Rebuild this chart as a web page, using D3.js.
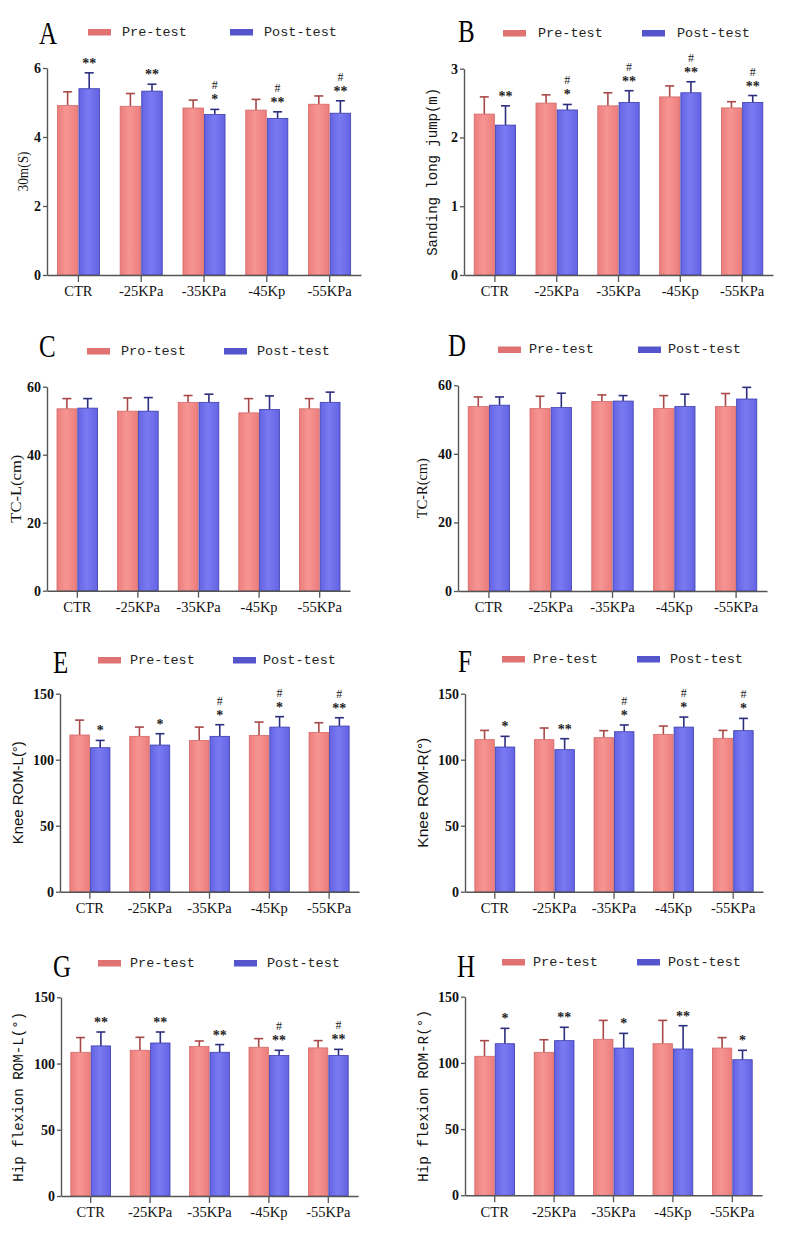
<!DOCTYPE html>
<html><head><meta charset="utf-8">
<script src="https://cdn.jsdelivr.net/npm/d3@7"></script>
<style>body{margin:0;background:#fff}svg{display:block}</style>
</head><body><svg id="c" width="810" height="1233"></svg>
<script>
// ---------- data ----------
const categories = ["CTR", "-25KPa", "-35KPa", "-45Kp", "-55KPa"];
const seriesNames = ["Pre-test", "Post-test"];
const seriesNamesC = ["Pro-test", "Post-test"];

const ticksA = [0, 2, 4, 6];
const preA = [4.91, 4.89, 4.84, 4.78, 4.95];
const preAErr = [0.40, 0.37, 0.23, 0.31, 0.24];
const postA = [5.40, 5.33, 4.65, 4.54, 4.69];
const postAErr = [0.46, 0.20, 0.15, 0.19, 0.36];
const starsA = ["**", "**", "*", "**", "**"];
const hashA = [false, false, true, true, true];

const ticksB = [0, 1, 2, 3];
const preB = [2.34, 2.50, 2.46, 2.59, 2.43];
const preBErr = [0.25, 0.12, 0.19, 0.16, 0.09];
const postB = [2.18, 2.40, 2.51, 2.65, 2.51];
const postBErr = [0.28, 0.08, 0.17, 0.16, 0.10];
const starsB = ["**", "*", "**", "**", "**"];
const hashB = [false, true, true, true, true];

const ticksC = [0, 20, 40, 60];
const preC = [53.5, 52.8, 55.4, 52.3, 53.5];
const preCErr = [3.0, 3.9, 2.0, 4.2, 3.0];
const postC = [53.7, 52.8, 55.4, 53.3, 55.4];
const postCErr = [2.8, 4.0, 2.4, 4.0, 3.0];

const ticksD = [0, 20, 40, 60];
const preD = [53.8, 53.2, 55.3, 53.2, 53.8];
const preDErr = [2.8, 3.6, 1.9, 3.8, 3.8];
const postD = [54.2, 53.5, 55.4, 53.8, 56.0];
const postDErr = [2.4, 4.2, 1.6, 3.6, 3.4];

const ticksE = [0, 50, 100, 150];
const preE = [118.7, 117.7, 114.6, 118.4, 120.7];
const preEErr = [11.3, 7.0, 10.1, 10.1, 7.3];
const postE = [109.1, 111.1, 117.7, 124.7, 125.5];
const postEErr = [5.5, 8.6, 8.8, 7.9, 6.3];
const starsE = ["*", "*", "*", "*", "**"];
const hashE = [false, false, true, true, true];

const ticksF = [0, 50, 100, 150];
const preF = [115.2, 115.2, 116.7, 119.2, 116.2];
const preFErr = [7.0, 8.8, 5.3, 6.3, 6.0];
const postF = [109.6, 107.6, 121.2, 124.7, 122.0];
const postFErr = [8.1, 8.3, 5.1, 7.6, 9.3];
const starsF = ["*", "**", "*", "*", "*"];
const hashF = [false, false, true, true, true];

const ticksG = [0, 50, 100, 150];
const preG = [108.5, 110.0, 112.8, 112.3, 111.8];
const preGErr = [11.1, 9.8, 4.2, 6.5, 5.5];
const postG = [113.3, 115.5, 108.5, 106.0, 106.0];
const postGErr = [10.5, 8.3, 5.8, 4.0, 4.7];
const starsG = ["**", "**", "**", "**", "**"];
const hashG = [false, false, false, true, true];

const ticksH = [0, 50, 100, 150];
const preH = [105.0, 108.0, 117.8, 114.5, 111.2];
const preHErr = [11.8, 9.5, 14.3, 17.6, 7.9];
const postH = [114.5, 116.8, 111.2, 110.5, 102.4];
const postHErr = [11.6, 10.1, 11.1, 17.6, 7.1];
const starsH = ["*", "**", "*", "**", "*"];
const hashH = [false, false, false, false, false];

const yLabels = {
  A: "30m(S)", B: "Sanding long jump(m)", C: "TC-L(cm)", D: "TC-R(cm)",
  E: "Knee ROM-L(°)", F: "Knee ROM-R(°)", G: "Hip flexion ROM-L(°)", H: "Hip flexion ROM-R(°)"
};

const panels = [
  {id: "A", ticks: ticksA, pre: preA, preErr: preAErr, post: postA, postErr: postAErr, stars: starsA, hash: hashA, names: seriesNames},
  {id: "B", ticks: ticksB, pre: preB, preErr: preBErr, post: postB, postErr: postBErr, stars: starsB, hash: hashB, names: seriesNames},
  {id: "C", ticks: ticksC, pre: preC, preErr: preCErr, post: postC, postErr: postCErr, stars: null, hash: null, names: seriesNamesC},
  {id: "D", ticks: ticksD, pre: preD, preErr: preDErr, post: postD, postErr: postDErr, stars: null, hash: null, names: seriesNames},
  {id: "E", ticks: ticksE, pre: preE, preErr: preEErr, post: postE, postErr: postEErr, stars: starsE, hash: hashE, names: seriesNames},
  {id: "F", ticks: ticksF, pre: preF, preErr: preFErr, post: postF, postErr: postFErr, stars: starsF, hash: hashF, names: seriesNames},
  {id: "G", ticks: ticksG, pre: preG, preErr: preGErr, post: postG, postErr: postGErr, stars: starsG, hash: hashG, names: seriesNames},
  {id: "H", ticks: ticksH, pre: preH, preErr: preHErr, post: postH, postErr: postHErr, stars: starsH, hash: hashH, names: seriesNames}
];

// ---------- layout (positions, sizes) ----------
const layout = {
  A: {x0: 47, x1: 361, yb: 275, yt: 68, lx: 39, lb: 44, ly: 32, r1: 88, t1: 122, r2: 230, t2: 264, yl: 23, ylLen: 40, ylFont: "serif"},
  B: {x0: 464, x1: 773, yb: 275, yt: 68.7, lx: 458, lb: 42, ly: 33, r1: 503, t1: 538, r2: 642, t2: 677, yl: 433, ylLen: 168, ylFont: "mono"},
  C: {x0: 47, x1: 350, yb: 590.7, yt: 386.7, lx: 39, lb: 357, ly: 351, r1: 87, t1: 121, r2: 224, t2: 257, yl: 16, ylLen: 68, ylFont: "serif"},
  D: {x0: 458, x1: 767, yb: 591, yt: 385.3, lx: 448, lb: 356, ly: 349.5, r1: 498, t1: 529, r2: 638, t2: 668, yl: 422, ylLen: 60, ylFont: "serif"},
  E: {x0: 60, x1: 359, yb: 891.7, yt: 693.7, lx: 53, lb: 673, ly: 660, r1: 98, t1: 130, r2: 233, t2: 263, yl: 18, ylLen: 103, ylFont: "sans"},
  F: {x0: 465, x1: 763, yb: 891.7, yt: 693.7, lx: 458, lb: 672, ly: 659, r1: 502, t1: 533, r2: 637, t2: 670, yl: 423, ylLen: 110, ylFont: "sans"},
  G: {x0: 61, x1: 358, yb: 1196, yt: 997.3, lx: 53, lb: 977, ly: 963, r1: 98, t1: 130, r2: 234, t2: 267, yl: 19, ylLen: 170, ylFont: "mono"},
  H: {x0: 465, x1: 762, yb: 1195.3, yt: 996.7, lx: 457, lb: 977, ly: 962, r1: 502, t1: 533, r2: 637, t2: 668, yl: 424, ylLen: 172, ylFont: "mono"}
};

const fonts = {serif: "'Liberation Serif','Times New Roman',serif", mono: "'Liberation Mono','DejaVu Sans Mono',monospace", sans: "'Liberation Sans',Arial,sans-serif"};
const colors = {
  preFill: "#f28a88", preStroke: "#d46a68", preErr: "#a84848", preLeg: "#e07272",
  postFill: "#7272ee", postStroke: "#3c3cae", postErr: "#2c2f7e", postLeg: "#5454cc",
  axis: "#555"
};

const svg = d3.select("#c");
const defs = svg.append("defs");
function grad(id, c1, c2) {
  const g = defs.append("linearGradient").attr("id", id).attr("x1", 0).attr("x2", 1).attr("y1", 0).attr("y2", 0);
  g.append("stop").attr("offset", "0%").attr("stop-color", c2);
  g.append("stop").attr("offset", "45%").attr("stop-color", c1);
  g.append("stop").attr("offset", "100%").attr("stop-color", c2);
}
grad("gPre", "#f69593", "#ec7e7c");
grad("gPost", "#7a7af2", "#6464e4");

panels.forEach(p => {
  const L = layout[p.id];
  const g = svg.append("g");
  const x = d3.scaleBand().domain(categories).range([L.x0, L.x1]).paddingInner(0.33).paddingOuter(0.165);
  const xs = d3.scaleBand().domain(["pre", "post"]).range([0, x.bandwidth()]).paddingInner(0.05);
  const y = d3.scaleLinear().domain([0, d3.max(p.ticks)]).range([L.yb, L.yt]);

  const rows = categories.map((c, i) => ({c, i, pre: p.pre[i], preErr: p.preErr[i], post: p.post[i], postErr: p.postErr[i]}));
  const series = [
    {key: "pre", fill: "url(#gPre)", stroke: colors.preStroke, err: colors.preErr},
    {key: "post", fill: "url(#gPost)", stroke: colors.postStroke, err: colors.postErr}
  ];

  series.forEach(s => {
    const eg = g.append("g");
    // error bars (upper only)
    eg.selectAll("line.v").data(rows).join("line")
      .attr("x1", d => x(d.c) + xs(s.key) + xs.bandwidth() / 2)
      .attr("x2", d => x(d.c) + xs(s.key) + xs.bandwidth() / 2)
      .attr("y1", d => y(d[s.key]))
      .attr("y2", d => y(d[s.key] + d[s.key + "Err"]))
      .attr("stroke", s.err).attr("stroke-width", 1.6);
    eg.selectAll("line.cap").data(rows).join("line")
      .attr("x1", d => x(d.c) + xs(s.key) + xs.bandwidth() / 2 - 4.5)
      .attr("x2", d => x(d.c) + xs(s.key) + xs.bandwidth() / 2 + 4.5)
      .attr("y1", d => y(d[s.key] + d[s.key + "Err"]))
      .attr("y2", d => y(d[s.key] + d[s.key + "Err"]))
      .attr("stroke", s.err).attr("stroke-width", 1.6);
    g.append("g").selectAll("rect").data(rows).join("rect")
      .attr("x", d => x(d.c) + xs(s.key))
      .attr("width", xs.bandwidth())
      .attr("y", d => y(d[s.key]))
      .attr("height", d => y(0) - y(d[s.key]))
      .attr("fill", s.fill).attr("stroke", s.stroke).attr("stroke-width", 0.8);
  });

  // significance marks
  if (p.stars) {
    const sg = g.append("g").attr("font-family", fonts.serif).attr("text-anchor", "middle").attr("fill", "#222");
    rows.forEach(d => {
      const cx = x(d.c) + xs("post") + xs.bandwidth() / 2;
      const cy = y(d.post + d.postErr);
      sg.append("text").attr("x", cx).attr("y", cy - 5).attr("font-size", 14).attr("font-weight", "bold").text(p.stars[d.i]);
      if (p.hash[d.i]) sg.append("text").attr("x", cx).attr("y", cy - 20).attr("font-size", 12).text("#");
    });
  }

  // axes
  const ya = g.append("g").attr("transform", `translate(${L.x0},0)`)
    .call(d3.axisLeft(y).tickValues(p.ticks).tickSize(4).tickSizeOuter(0).tickPadding(2).tickFormat(d3.format("d")));
  ya.selectAll("text").attr("font-family", fonts.serif).attr("font-weight", "bold").attr("font-size", 14).attr("fill", "#111");
  const xa = g.append("g").attr("transform", `translate(0,${L.yb})`)
    .call(d3.axisBottom(x).tickSize(7).tickSizeOuter(0).tickPadding(4));
  xa.selectAll("text").attr("font-family", fonts.serif).attr("font-size", 14.5).attr("fill", "#111");
  [ya, xa].forEach(a => {
    a.select(".domain").attr("stroke", colors.axis).attr("stroke-width", 1.4);
    a.selectAll(".tick line").attr("stroke", colors.axis).attr("stroke-width", 1.3);
  });

  // y label
  g.append("text")
    .attr("transform", `translate(${L.yl},${(L.yb + L.yt) / 2}) rotate(-90)`)
    .attr("text-anchor", "middle").attr("dominant-baseline", "central")
    .attr("font-family", fonts[L.ylFont]).attr("font-size", 14).attr("fill", "#111")
    .attr("textLength", L.ylLen).attr("lengthAdjust", "spacingAndGlyphs")
    .text(yLabels[p.id]);

  // panel letter
  g.append("text").attr("transform", `translate(${L.lx},${L.lb}) scale(0.78,1)`)
    .attr("font-family", fonts.serif).attr("font-size", 32).attr("fill", "#000").text(p.id);

  // legend
  const leg = [
    {rx: L.r1, tx: L.t1, c: colors.preLeg, name: p.names[0]},
    {rx: L.r2, tx: L.t2, c: colors.postLeg, name: p.names[1]}
  ];
  leg.forEach(l => {
    g.append("rect").attr("x", l.rx).attr("y", L.ly - 3).attr("width", 23).attr("height", 6.5).attr("fill", l.c);
    g.append("text").attr("x", l.tx).attr("y", L.ly).attr("dominant-baseline", "central")
      .attr("font-family", fonts.mono).attr("font-size", 13.5).attr("fill", "#222").text(l.name);
  });
});
</script>
</body></html>
